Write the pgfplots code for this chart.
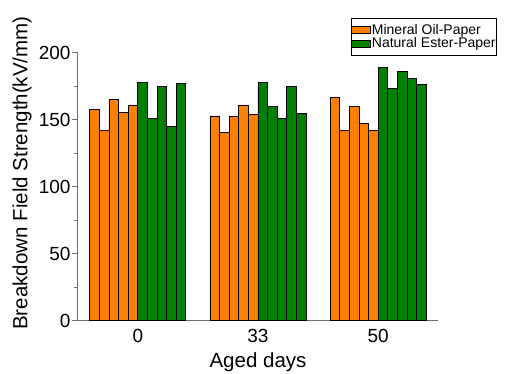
\documentclass[border=0pt]{standalone}
\usepackage{pgfplots}
\pgfplotsset{compat=1.18}
\usepackage{pgfplotstable}
\usepackage{fontspec}
\setmainfont{Liberation Sans}

\definecolor{oilorange}{RGB}{255,128,0}
\definecolor{estergreen}{RGB}{0,128,0}
\definecolor{axisgray}{RGB}{110,110,110}

% Breakdown field strength (kV/mm); x = group index (0, 33, 50 days) + bar offset
\pgfplotstableread{
x      y
-0.36  157.5
-0.28  141.8
-0.20  165.2
-0.12  155.2
-0.04  161.0
0.64   152.8
0.72   140.8
0.80   152.5
0.88   161.0
0.96   153.7
1.64   166.7
1.72   141.8
1.80   160.0
1.88   147.5
1.96   141.8
}\mineraloil

\pgfplotstableread{
x      y
0.04   177.6
0.12   151.0
0.20   175.1
0.28   145.0
0.36   176.9
1.04   177.6
1.12   160.0
1.20   151.0
1.28   175.1
1.36   154.5
2.04   189.3
2.12   173.4
2.20   186.1
2.28   180.9
2.36   176.4
}\naturalester

\begin{document}
\begin{tikzpicture}
\useasboundingbox (-77.7pt,-52.3pt) rectangle (429.3pt,320.7pt);
\begin{axis}[
  at={(0,0)}, anchor=south west,
  scale only axis,
  width=360.6pt, height=268pt,
  xmin=-0.5, xmax=2.5,
  ymin=0, ymax=200,
  axis lines=left,
  axis line style={-, draw=axisgray, line width=0.9pt},
  xtick={0,1,2},
  xticklabels={0,33,50},
  major x tick style={draw=none},
  ytick={0,50,100,150,200},
  minor y tick num=1,
  tick align=outside,
  major tick length=6pt,
  minor tick length=3.5pt,
  y tick style={draw=axisgray, line width=0.8pt},
  /pgf/number format/assume math mode=true,
  ticklabel style={font=\fontsize{19}{19}\selectfont},
  yticklabel style={inner sep=1pt},
  xticklabel style={inner sep=2pt},
  xlabel={Aged days},
  ylabel={Breakdown Field Strength(kV/mm)},
  label style={font=\fontsize{20.5}{20.5}\selectfont},
  xlabel style={at={(axis description cs:0.5,-0.153)}, anchor=center},
  ylabel style={at={(axis description cs:-0.1545,0.551)}, anchor=center, rotate=0},
  ybar, bar width=0.08, bar shift=0pt,
  legend style={
    at={(axis description cs:0.758,1.128)}, anchor=north west,
    draw=black, line width=0.6pt, fill=white,
    inner xsep=0pt, inner ysep=4.5pt,
    font=\fontsize{14}{14}\selectfont,
    nodes={inner sep=1pt},
    row sep=0pt,
  },
  legend cell align=left,
]
\addplot[fill=oilorange, draw=black, line width=0.8pt,
  legend image code/.code={\draw[fill=oilorange, draw=black, line width=0.6pt] (0pt,-3.3pt) rectangle (19pt,3.3pt);}]
  table[x=x, y=y] {\mineraloil};
\addlegendentry{Mineral Oil-Paper}
\addplot[fill=estergreen, draw=black, line width=0.8pt,
  legend image code/.code={\draw[fill=estergreen, draw=black, line width=0.6pt] (0pt,-3.3pt) rectangle (19pt,3.3pt);}]
  table[x=x, y=y] {\naturalester};
\addlegendentry{Natural Ester-Paper}
\end{axis}
\end{tikzpicture}
\end{document}
